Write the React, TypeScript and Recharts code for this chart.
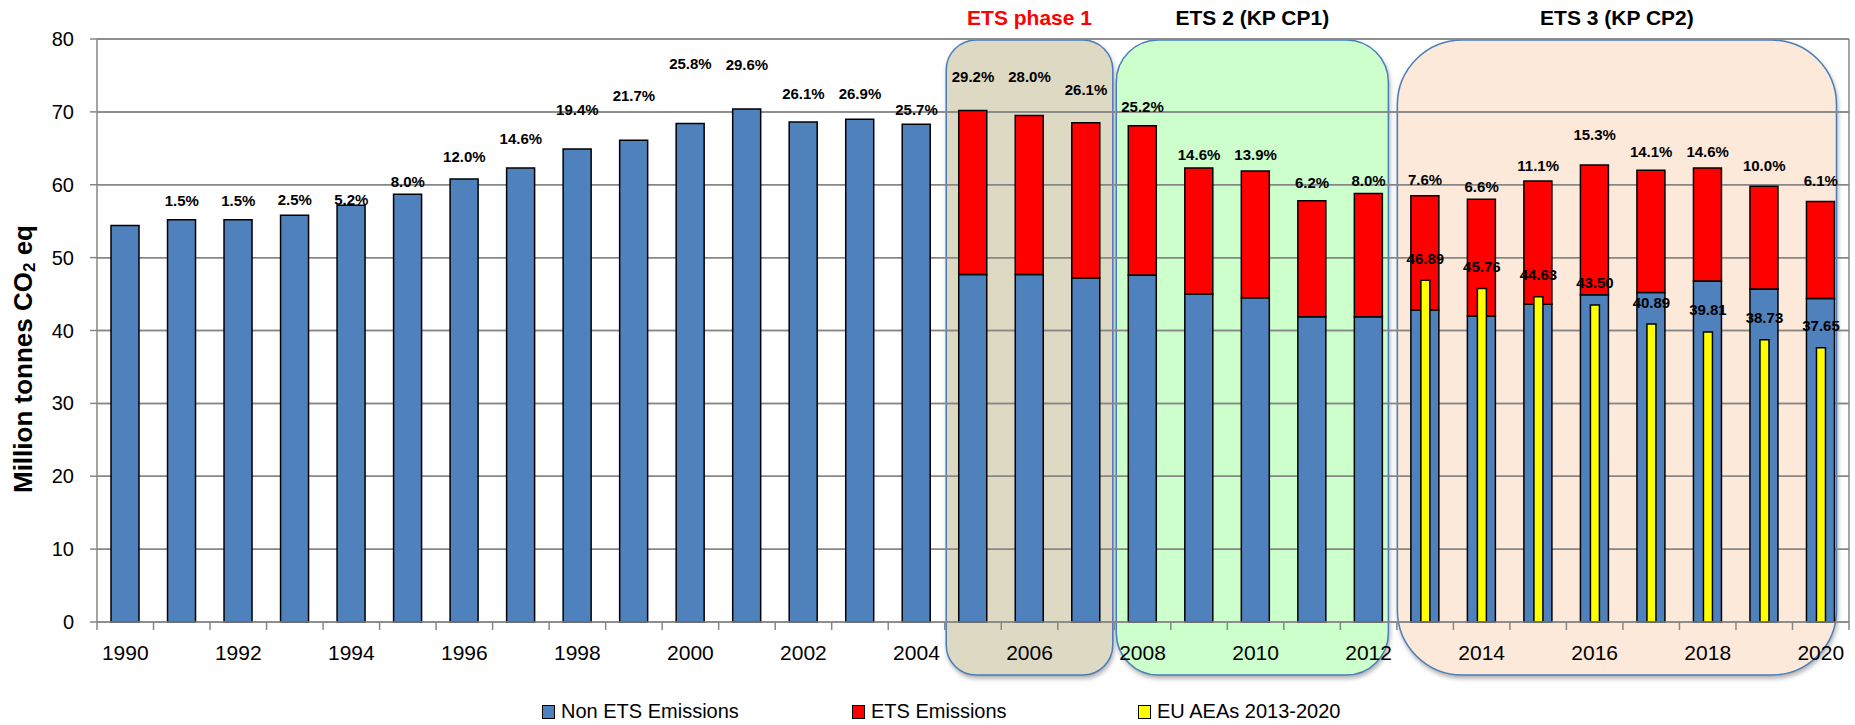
import React from "react"
import {
  ComposedChart,
  Bar,
  Line,
  XAxis,
  YAxis,
  CartesianGrid,
  ReferenceArea,
  ReferenceLine,
  LabelList,
} from "recharts"

// years on the category axis
const years = [
  "1990", "1991", "1992", "1993", "1994", "1995", "1996", "1997", "1998", "1999",
  "2000", "2001", "2002", "2003", "2004", "2005", "2006", "2007", "2008", "2009",
  "2010", "2011", "2012", "2013", "2014", "2015", "2016", "2017", "2018", "2019", "2020",
]

// Mt CO2 eq
const nonEts = [
  54.4, 55.2, 55.2, 55.8, 57.2, 58.7, 60.8, 62.3, 64.9, 66.1,
  68.4, 70.4, 68.6, 69.0, 68.3, 47.7, 47.7, 47.2, 47.6, 45.0,
  44.5, 41.9, 41.9, 42.8, 42.0, 43.6, 44.9, 45.2, 46.8, 45.7, 44.4,
]

const ets = [
  null, null, null, null, null, null, null, null, null, null,
  null, null, null, null, null, 22.5, 21.8, 21.3, 20.5, 17.3,
  17.4, 15.9, 16.9, 15.7, 16.0, 16.9, 17.8, 16.8, 15.5, 14.1, 13.3,
]

const aeas = [
  null, null, null, null, null, null, null, null, null, null,
  null, null, null, null, null, null, null, null, null, null,
  null, null, null, 46.89, 45.76, 44.63, 43.5, 40.89, 39.81, 38.73, 37.65,
]

// change against 1990
const pctLabels = [
  null, "1.5%", "1.5%", "2.5%", "5.2%", "8.0%", "12.0%", "14.6%", "19.4%", "21.7%",
  "25.8%", "29.6%", "26.1%", "26.9%", "25.7%", "29.2%", "28.0%", "26.1%", "25.2%", "14.6%",
  "13.9%", "6.2%", "8.0%", "7.6%", "6.6%", "11.1%", "15.3%", "14.1%", "14.6%", "10.0%", "6.1%",
]

// level (axis units) where each % label sits in the original
const pctLabelLevel = [
  null, 57.8, 57.8, 58.0, 58.0, 60.4, 63.9, 66.4, 70.3, 72.3,
  76.7, 76.5, 72.5, 72.5, 70.3, 74.8, 74.9, 73.1, 70.7, 64.2,
  64.2, 60.3, 60.6, 60.7, 59.7, 62.6, 66.9, 64.5, 64.5, 62.6, 60.6,
]

const yTicks = [0, 10, 20, 30, 40, 50, 60, 70, 80]

const periods = [
  { from: "2005", to: "2007", title: "ETS phase 1", titleColor: "#FF0000", fill: "#DDD9C3", r: 30, insetL: 1.5, insetR: 1.5 },
  { from: "2008", to: "2012", title: "ETS 2 (KP CP1)", titleColor: "#000000", fill: "#CCFFCC", r: 42, insetL: 2, insetR: 8.5 },
  { from: "2013", to: "2020", title: "ETS 3 (KP CP2)", titleColor: "#000000", fill: "#FDE9D9", r: 65, insetL: 0.5, insetR: 12.5 },
]

const data = years.map((year, i) => ({
  year,
  nonEts: nonEts[i],
  ets: ets[i],
  aea: aeas[i],
  pct: pctLabels[i],
  pctAt: pctLabelLevel[i],
}))

const FONT = "'Liberation Sans', Arial, sans-serif"
const GRID = "#878787"

function roundedBox(x: number, y: number, w: number, h: number, r: number) {
  return `M${x + r},${y} H${x + w - r} A${r},${r} 0 0 1 ${x + w},${y + r} V${y + h - r} A${r},${r} 0 0 1 ${x + w - r},${y + h} H${x + r} A${r},${r} 0 0 1 ${x},${y + h - r} V${y + r} A${r},${r} 0 0 1 ${x + r},${y} Z`
}

function periodShape(p: (typeof periods)[number]) {
  return (props: any) => {
    const { x, y, width, height } = props
    const left = x + p.insetL
    const w = width - p.insetL - p.insetR
    const top = y + 1
    const h = height + 52
    return (
      <g>
        <path
          d={roundedBox(left, top, w, h, p.r)}
          fill={p.fill}
          stroke="#4A7EBB"
          strokeWidth={1.5}
          style={{ filter: "drop-shadow(1px 3px 2px rgba(0,0,0,0.3))" }}
        />
        <text
          x={left + w / 2}
          y={y - 22}
          textAnchor="middle"
          dominantBaseline="central"
          fontFamily={FONT}
          fontWeight="bold"
          fontSize={21}
          fill={p.titleColor}
        >
          {p.title}
        </text>
      </g>
    )
  }
}

function YearTick(props: any) {
  const { x, y, payload, index } = props
  const half = payload && payload.offset ? payload.offset : 28.25
  const axisY = y - 8
  const last = index === years.length - 1
  return (
    <g>
      <line x1={x - half} x2={x - half} y1={axisY} y2={axisY + 8} stroke={GRID} strokeWidth={1.5} />
      {last && <line x1={x + half} x2={x + half} y1={axisY} y2={axisY + 8} stroke={GRID} strokeWidth={1.5} />}
      {index % 2 === 0 && (
        <text
          x={x}
          y={axisY + 30}
          textAnchor="middle"
          dominantBaseline="central"
          fontFamily={FONT}
          fontSize={21}
          fill="#000"
        >
          {payload.value}
        </text>
      )}
    </g>
  )
}

function YTitle() {
  return (
    <text
      x={23}
      y={359}
      transform="rotate(-90, 23, 359)"
      textAnchor="middle"
      dominantBaseline="central"
      fontFamily={FONT}
      fontWeight="bold"
      fontSize={26}
      fill="#000"
    >
      <tspan>Million tonnes CO</tspan>
      <tspan fontSize={17} dy={6}>2</tspan>
      <tspan dy={-6}> eq</tspan>
    </text>
  )
}

function PctLabel(props: any) {
  const { x, y, value } = props
  if (value == null || y == null || isNaN(y)) return null
  return (
    <text x={x} y={y} textAnchor="middle" dominantBaseline="central" fontFamily={FONT} fontWeight="bold" fontSize={15} fill="#000">
      {value}
    </text>
  )
}

function AeaLabel(props: any) {
  const { x, y, width, value } = props
  if (value == null) return null
  return (
    <text x={x + width / 2} y={y - 22} textAnchor="middle" dominantBaseline="central" fontFamily={FONT} fontWeight="bold" fontSize={15} fill="#000">
      {Number(value).toFixed(2)}
    </text>
  )
}

const legendItems = [
  { label: "Non ETS Emissions", color: "#4F81BD", left: 542 },
  { label: "ETS Emissions", color: "#FF0000", left: 852 },
  { label: "EU AEAs 2013-2020", color: "#FFFF00", left: 1138 },
]

export default function App() {
  return (
    <div style={{ position: "absolute", left: 0, top: 0, width: 1855, height: 725, background: "#fff" }}>
      <ComposedChart
        width={1855}
        height={725}
        data={data}
        margin={{ top: 39, right: 6, left: 0, bottom: 43 }}
      >
        {periods.map((p) => (
          <ReferenceArea
            key={p.title}
            x1={p.from}
            x2={p.to}
            ifOverflow="visible"
            shape={periodShape(p)}
            {...({ zIndex: -200 } as any)}
          />
        ))}
        <CartesianGrid vertical={false} stroke={GRID} strokeWidth={1.5} />
        {/* gridlines again, so they show through the period boxes */}
        {yTicks.slice(1).map((t) => (
          <ReferenceLine key={t} y={t} stroke={GRID} strokeWidth={1.5} {...({ zIndex: 150 } as any)} />
        ))}
        <XAxis
          dataKey="year"
          interval={0}
          height={60}
          tickSize={8}
          tickMargin={0}
          tickLine={false}
          tick={<YearTick />}
          axisLine={{ stroke: GRID, strokeWidth: 1.5 }}
        />
        <XAxis xAxisId="aea" dataKey="year" hide />
        <YAxis
          width={97}
          domain={[0, 80]}
          ticks={yTicks}
          interval={0}
          tickSize={7}
          tickMargin={16}
          tickLine={{ stroke: GRID, strokeWidth: 1.5 }}
          axisLine={{ stroke: GRID, strokeWidth: 1.5 }}
          tick={{ fontFamily: FONT, fontSize: 20, fill: "#000" }}
          label={<YTitle />}
        />
        <ReferenceLine x="2020" position="end" stroke={GRID} strokeWidth={1.5} />
        <Bar dataKey="nonEts" stackId="em" barSize={28} fill="#4F81BD" stroke="#000" strokeWidth={1.5} isAnimationActive={false} />
        <Bar dataKey="ets" stackId="em" barSize={28} fill="#FF0000" stroke="#000" strokeWidth={1.5} isAnimationActive={false} />
        <Bar dataKey="aea" xAxisId="aea" barSize={9} fill="#FFFF00" stroke="#000" strokeWidth={1.5} isAnimationActive={false}>
          <LabelList dataKey="aea" content={<AeaLabel />} />
        </Bar>
        <Line dataKey="pctAt" stroke="none" dot={false} activeDot={false} legendType="none" isAnimationActive={false}>
          <LabelList dataKey="pct" content={<PctLabel />} />
        </Line>
      </ComposedChart>
      {legendItems.map((it) => (
        <div
          key={it.label}
          style={{
            position: "absolute",
            left: it.left,
            top: 700,
            display: "flex",
            alignItems: "center",
            fontFamily: FONT,
            fontSize: 20,
            color: "#000",
            whiteSpace: "nowrap",
          }}
        >
          <span
            style={{
              display: "inline-block",
              width: 11,
              height: 12,
              background: it.color,
              border: "1.5px solid #000",
              marginRight: 6,
            }}
          />
          {it.label}
        </div>
      ))}
    </div>
  )
}
